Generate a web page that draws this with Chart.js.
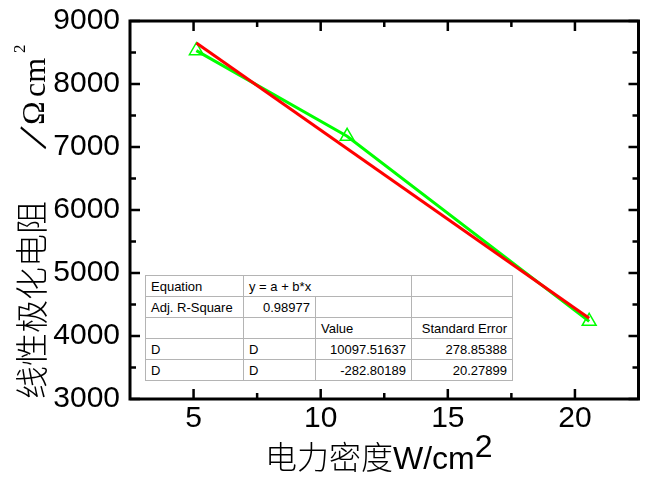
<!DOCTYPE html>
<html>
<head>
<meta charset="utf-8">
<script src="https://cdn.jsdelivr.net/npm/chart.js@4.4.1/dist/chart.umd.min.js"></script>
<style>
  body { margin: 0; background: #fff; overflow: hidden; }
  #wrap { position: relative; width: 648px; height: 477px; }
  #fit-table {
    position: absolute; left: 145px; top: 275px; width: 368px;
    border-collapse: collapse; table-layout: fixed;
    font: 13px "Liberation Sans", Arial, sans-serif; color: #000;
    background: #fff; border: 1px solid #222;
  }
  #fit-table td { border: 1px solid #b4b4b4; height: 20px; padding: 0 5px; white-space: nowrap; overflow: hidden; }
  #fit-table td.r { text-align: right; }
</style>
</head>
<body>
<div id="wrap">
  <canvas id="chart"></canvas>
  <table id="fit-table"></table>
</div>
<script>
const powerDensity = [5.11, 11.04, 20.56];
const resistance = [8529, 7170, 4233];
// end points of the linear fit line
const fitX = [5.11, 20.56];
const fitY = [8652, 4283];

const xTicks = [5, 10, 15, 20];
const xMinorTicks = [7.5, 12.5, 17.5];
const yTicks = [3000, 4000, 5000, 6000, 7000, 8000, 9000];
const yMinorTicks = [3500, 4500, 5500, 6500, 7500, 8500];

// fit result table
const equation = "y = a + b*x";
const adjR2 = "0.98977";
const paramNames = ["D", "D"];
const paramValues = ["10097.51637", "-282.80189"];
const paramErrors = ["278.85388", "20.27899"];

// build the table
function buildTable() {
  const table = document.getElementById("fit-table");
  const cols = [98, 72, 96, 101];
  const cg = document.createElement("colgroup");
  cols.forEach(w => {
    const c = document.createElement("col");
    c.style.width = w + "px";
    cg.appendChild(c);
  });
  table.appendChild(cg);
  const rows = [
    [{ t: "Equation" }, { t: equation, span: 2 }, { t: "" }],
    [{ t: "Adj. R-Square" }, { t: adjR2, r: true }, { t: "" }, { t: "" }],
    [{ t: "" }, { t: "" }, { t: "Value" }, { t: "Standard Error", r: true }],
  ];
  paramNames.forEach((n, i) => {
    rows.push([{ t: n }, { t: n }, { t: paramValues[i], r: true }, { t: paramErrors[i], r: true }]);
  });
  rows.forEach(r => {
    const tr = document.createElement("tr");
    r.forEach(cell => {
      const td = document.createElement("td");
      td.textContent = cell.t;
      if (cell.span) td.colSpan = cell.span;
      if (cell.r) td.className = "r";
      tr.appendChild(td);
    });
    table.appendChild(tr);
  });
}
buildTable();

// frame, inward ticks on all sides and the axis titles
const frameAndTitles = {
  id: "frameAndTitles",
  afterDraw(chart) {
    const { ctx, chartArea: a, scales: { x, y } } = chart;
    ctx.save();
    ctx.strokeStyle = "#000";
    ctx.lineWidth = 2.5;

    const xTick = (vals, len) => vals.forEach(v => {
      const px = x.getPixelForValue(v);
      ctx.beginPath();
      ctx.moveTo(px, a.bottom); ctx.lineTo(px, a.bottom - len);
      ctx.moveTo(px, a.top); ctx.lineTo(px, a.top + len);
      ctx.stroke();
    });
    const yTick = (vals, len) => vals.forEach(v => {
      const py = y.getPixelForValue(v);
      ctx.beginPath();
      ctx.moveTo(a.left, py); ctx.lineTo(a.left + len, py);
      ctx.moveTo(a.right, py); ctx.lineTo(a.right - len, py);
      ctx.stroke();
    });
    xTick(xTicks, 10);
    xTick(xMinorTicks, 6);
    yTick(yTicks, 10);
    yTick(yMinorTicks, 6);

    ctx.lineWidth = 3;
    ctx.strokeRect(a.left, a.top, a.right - a.left, a.bottom - a.top);

    // x title
    ctx.fillStyle = "#000";
    ctx.textBaseline = "alphabetic";
    ctx.textAlign = "left";
    let tx = a.left + 135;
    const ty = 469;
    ctx.font = '300 32px "Noto Sans CJK SC"';
    ctx.fillText("电力密度", tx, ty);
    tx += ctx.measureText("电力密度").width;
    ctx.font = '32px "Liberation Sans", Arial';
    ctx.fillText("W/cm", tx, ty);
    tx += ctx.measureText("W/cm").width;
    ctx.fillText("2", tx, ty - 12);

    // y title, rotated
    ctx.translate(44, 399);
    ctx.rotate(-Math.PI / 2);
    ctx.font = '300 33px "Noto Sans CJK SC"';
    ctx.fillText("线性极化电阻", 0, 0);
    ctx.save();
    ctx.translate(250, 1);
    ctx.rotate(0.36);
    ctx.font = '46px "Liberation Serif"';
    ctx.fillText("/", 0, 0);
    ctx.restore();
    ctx.font = '32px "Liberation Serif"';
    ctx.fillText("Ω", 274, 0);
    ctx.fillText("cm", 302, 1);
    ctx.font = '17px "Liberation Serif"';
    ctx.fillText("2", 346, -19);
    ctx.restore();
  }
};

const tickFont = { family: '"Liberation Sans", Arial, sans-serif', size: 30 };

new Chart(document.getElementById("chart"), {
  type: "scatter",
  data: {
    datasets: [
      {
        label: "Linear Fit",
        data: fitX.map((v, i) => ({ x: v, y: fitY[i] })),
        showLine: true,
        borderColor: "#ff0000",
        borderWidth: 3,
        pointRadius: 0
      },
      {
        label: "D",
        data: powerDensity.map((v, i) => ({ x: v, y: resistance[i] })),
        showLine: true,
        borderColor: "#00ff00",
        borderWidth: 3,
        pointStyle: "triangle",
        pointRadius: 8,
        pointBorderWidth: 1.5,
        pointBorderColor: "#00ff00",
        pointBackgroundColor: "rgba(0,0,0,0)"
      }
    ]
  },
  options: {
    responsive: true,
    maintainAspectRatio: false,
    animation: false,
    layout: { padding: { left: 0, top: 21, right: 1, bottom: 0 } },
    plugins: { legend: { display: false }, tooltip: { enabled: false } },
    scales: {
      x: {
        type: "linear",
        min: 2.5,
        max: 22.5,
        afterBuildTicks: s => { s.ticks = xTicks.map(v => ({ value: v })); },
        afterFit: s => { s.height = 78; s.paddingLeft = 0; s.paddingRight = 0; },
        grid: { display: false, drawTicks: false },
        border: { display: false },
        ticks: { font: tickFont, color: "#000", padding: 2 }
      },
      y: {
        min: 3000,
        max: 9000,
        afterBuildTicks: s => { s.ticks = yTicks.map(v => ({ value: v })); },
        afterFit: s => { s.width = 130; s.paddingTop = 0; s.paddingBottom = 0; },
        grid: { display: false, drawTicks: false },
        border: { display: false },
        ticks: { font: tickFont, color: "#000", padding: 10, callback: v => String(v) }
      }
    }
  },
  plugins: [frameAndTitles]
});
</script>
</body>
</html>
